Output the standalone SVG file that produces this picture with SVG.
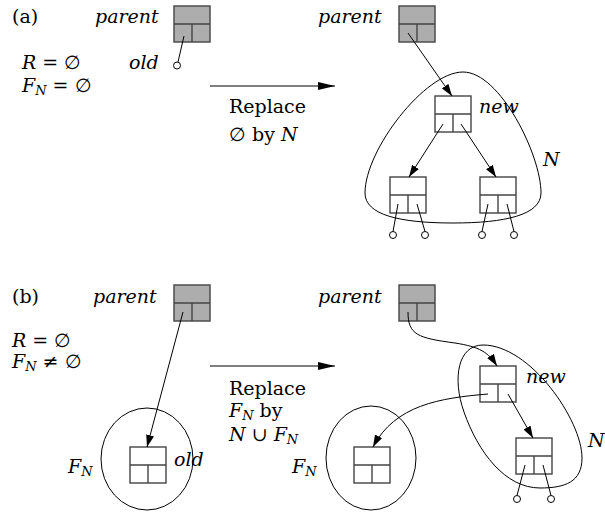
<svg xmlns="http://www.w3.org/2000/svg" width="605" height="515" viewBox="0 0 605 515">
<defs>
<marker id="ah" viewBox="0 0 12 8" refX="12" refY="4" markerWidth="12" markerHeight="8" markerUnits="userSpaceOnUse" orient="auto"><path d="M0,0 L12,4 L0,8 z" fill="#000"/></marker>
<marker id="big" viewBox="0 0 17 8" refX="17" refY="4" markerWidth="17" markerHeight="8" markerUnits="userSpaceOnUse" orient="auto"><path d="M0,0 L17,4 L0,8 z" fill="#000"/></marker>
</defs>
<style>
text{font-family:"DejaVu Serif",serif;font-size:19px;fill:#000}
.i{font-style:italic}
.sub{font-style:italic;font-size:13px}
.box{fill:#fff;stroke:#444;stroke-width:1.4}
.pbox{fill:#adadad;stroke:#444;stroke-width:1.4}
.div{stroke:#444;stroke-width:1.4;fill:none}
.ln{stroke:#000;stroke-width:1;fill:none}
.leaf{fill:#fff;stroke:#000;stroke-width:1}
.blob{fill:none;stroke:#000;stroke-width:1}
</style>
<rect width="605" height="515" fill="#fff"/>

<!-- panel (a) labels -->
<text x="12" y="23">(a)</text>
<text x="22" y="69"><tspan class="i">R</tspan> = ∅</text>
<text x="22" y="92"><tspan class="i">F</tspan><tspan class="sub" dy="3">N</tspan><tspan dy="-3"> = ∅</tspan></text>
<text x="229" y="113">Replace</text>
<text x="229" y="141">∅ by <tspan class="i">N</tspan></text>

<g id="a-parent-old">
<text class="i" x="95" y="23">parent</text>
<rect class="pbox" x="174" y="6" width="36" height="36"/>
<path class="div" d="M174,24 H210 M192,24 V42"/>
<text class="i" x="129" y="69">old</text>
</g>
<g id="a-parent-new">
<text class="i" x="318" y="23">parent</text>
<rect class="pbox" x="399" y="6" width="36" height="36"/>
<path class="div" d="M399,24 H435 M417,24 V42"/>
</g>
<g id="a-N">
<path class="blob" d="M453,223 C400,223 365,215 365,193 C365,150 425,72 463,72 C500,72 541,155 541,193 C541,215 505,223 453,223 Z"/>
<text class="i" x="543" y="166">N</text>
</g>
<g id="a-new">
<rect class="box" x="435" y="96" width="36" height="36"/>
<path class="div" d="M435,114 H471 M453,114 V132"/>
<text class="i" x="479" y="113">new</text>
</g>
<g id="a-left">
<rect class="box" x="390" y="177" width="36" height="36"/>
<path class="div" d="M390,195 H426 M408,195 V213"/>
</g>
<g id="a-right">
<rect class="box" x="480" y="177" width="36" height="36"/>
<path class="div" d="M480,195 H516 M498,195 V213"/>
</g>

<!-- panel (b) labels -->
<text x="12" y="303">(b)</text>
<text x="12" y="347"><tspan class="i">R</tspan> = ∅</text>
<text x="12" y="368"><tspan class="i">F</tspan><tspan class="sub" dy="3">N</tspan><tspan dy="-3"> ≠ ∅</tspan></text>
<text x="229" y="395">Replace</text>
<text x="229" y="417"><tspan class="i">F</tspan><tspan class="sub" dy="3">N</tspan><tspan dy="-3"> by</tspan></text>
<text x="229" y="441"><tspan class="i">N</tspan> ∪ <tspan class="i">F</tspan><tspan class="sub" dy="3">N</tspan></text>

<g id="b-parent-old">
<text class="i" x="93" y="303">parent</text>
<rect class="pbox" x="174" y="285" width="36" height="36"/>
<path class="div" d="M174,303 H210 M192,303 V321"/>
</g>
<g id="b-FN-old">
<ellipse class="blob" cx="147" cy="459" rx="46" ry="51"/>
<text x="68" y="473"><tspan class="i">F</tspan><tspan class="sub" dy="3">N</tspan></text>
</g>
<g id="b-old">
<rect class="box" x="130" y="447" width="36" height="36"/>
<path class="div" d="M130,465 H166 M148,465 V483"/>
<text class="i" x="174" y="466">old</text>
</g>
<g id="b-parent-new">
<text class="i" x="318" y="303">parent</text>
<rect class="pbox" x="399" y="285" width="36" height="36"/>
<path class="div" d="M399,303 H435 M417,303 V321"/>
</g>
<g id="b-FN">
<ellipse class="blob" cx="371" cy="458" rx="45" ry="52"/>
<text x="292" y="473"><tspan class="i">F</tspan><tspan class="sub" dy="3">N</tspan></text>
<rect class="box" x="354" y="447" width="36" height="36"/>
<path class="div" d="M354,465 H390 M372,465 V483"/>
</g>
<g id="b-N">
<path class="blob" d="M483,345 C530,345 582,420 582,458 C582,482 565,488 540,488 C505,488 478,452 464,412 C452,378 458,345 483,345 Z"/>
<text class="i" x="588" y="447">N</text>
</g>
<g id="b-new">
<rect class="box" x="480" y="366" width="36" height="36"/>
<path class="div" d="M480,384 H516 M498,384 V402"/>
<text class="i" x="526" y="383">new</text>
</g>
<g id="b-child">
<rect class="box" x="516" y="438" width="36" height="36"/>
<path class="div" d="M516,456 H552 M534,456 V474"/>
</g>

<g id="connectors">
<!-- (a) -->
<line class="ln" x1="184" y1="36" x2="178" y2="62"/>
<circle class="leaf" cx="177" cy="65.5" r="3.5"/>
<line class="ln" x1="210" y1="86" x2="335" y2="86" marker-end="url(#big)"/>
<line class="ln" x1="408" y1="33" x2="452" y2="96" marker-end="url(#ah)"/>
<line class="ln" x1="443" y1="124" x2="409" y2="177" marker-end="url(#ah)"/>
<line class="ln" x1="461" y1="124" x2="496" y2="177" marker-end="url(#ah)"/>
<line class="ln" x1="398" y1="204" x2="393" y2="231.5"/>
<circle class="leaf" cx="393" cy="235" r="3.5"/>
<line class="ln" x1="417" y1="204" x2="425" y2="231.5"/>
<circle class="leaf" cx="425" cy="235" r="3.5"/>
<line class="ln" x1="488" y1="204" x2="482" y2="231.5"/>
<circle class="leaf" cx="482" cy="235" r="3.5"/>
<line class="ln" x1="507" y1="204" x2="514" y2="231.5"/>
<circle class="leaf" cx="514" cy="235" r="3.5"/>
<!-- (b) -->
<line class="ln" x1="183" y1="312" x2="147" y2="447" marker-end="url(#ah)"/>
<line class="ln" x1="210" y1="366" x2="335" y2="366" marker-end="url(#big)"/>
<path class="ln" d="M408,312 C408,335 418,338 455,343 C480,347 488,352 497,366" marker-end="url(#ah)"/>
<path class="ln" d="M488,394 C440,398 395,405 373,447" marker-end="url(#ah)"/>
<line class="ln" x1="508" y1="394" x2="533" y2="438" marker-end="url(#ah)"/>
<line class="ln" x1="525" y1="465" x2="517" y2="495.5"/>
<circle class="leaf" cx="517" cy="499" r="3.5"/>
<line class="ln" x1="543" y1="465" x2="551" y2="495.5"/>
<circle class="leaf" cx="551" cy="499" r="3.5"/>
</g>
</svg>
